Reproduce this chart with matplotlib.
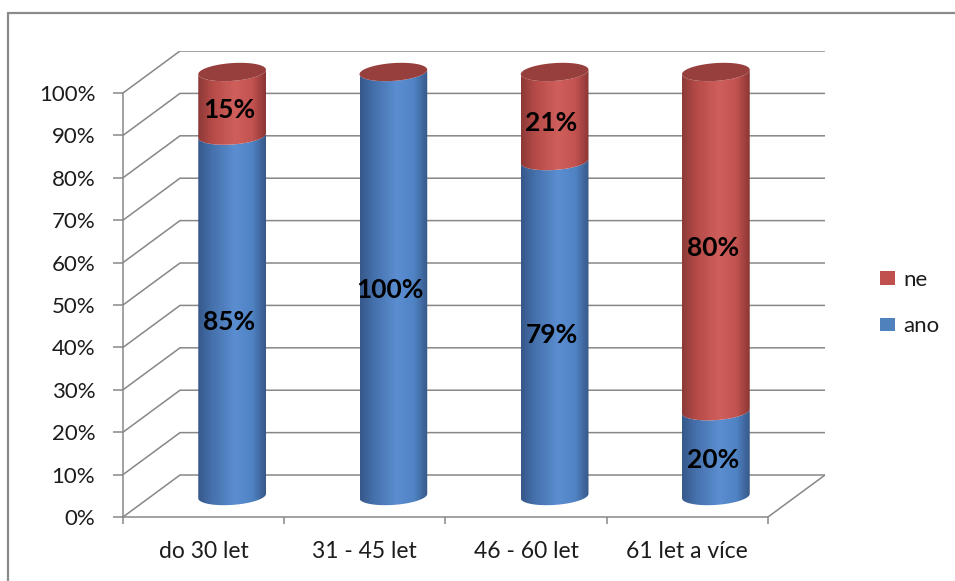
import numpy as np
import matplotlib
matplotlib.use('Agg')
import matplotlib.pyplot as plt
from matplotlib.patches import Polygon, Patch, Rectangle
from matplotlib.colors import LinearSegmentedColormap

plt.rcParams['font.family'] = ['Lato', 'DejaVu Sans']

# data
categories = ['do 30 let', '31 - 45 let', '46 - 60 let', '61 let a více']
ano = [85, 100, 79, 20]
ne = [15, 0, 21, 80]
yticks = list(range(0, 101, 10))

# pseudo 3d geometry (in data units)
DX = 0.3535     # depth offset along x (category units)
DY = 9.9        # depth offset along y (percent units)
W = 0.42        # cylinder width
B = 2.1         # half height of the ellipse
TILT = 2.5      # slight slope of the ellipses
Y0 = DY / 2     # cylinders stand at mid depth

grid_col = '#878787'
txt_col = '#1c1c1c'

blue_cm = LinearSegmentedColormap.from_list(
    'b', [(0, '#36588a'), (0.2, '#4570ab'), (0.55, '#5b8ed1'), (0.8, '#5083c4'), (1, '#365888')])
red_cm = LinearSegmentedColormap.from_list(
    'r', [(0, '#8c3937'), (0.2, '#b44a47'), (0.55, '#d05f5c'), (0.8, '#c25350'), (1, '#8a3634')])

fig = plt.figure(figsize=(9.55, 5.81), dpi=100)
ax = fig.add_axes([123 / 955, 1 - 517 / 581, (825 - 123) / 955, (517 - 51) / 581])
xmax, ymax = 4 + DX, 100 + DY

# outer frame of the chart area
fig.add_artist(Rectangle((8 / 955, -0.2), 1.2, 1 - 13 / 581 + 0.2, transform=fig.transFigure,
                         fill=False, edgecolor='#8a8a8a', lw=1.6, clip_on=False))

# walls / gridlines
for k in yticks:
    ax.plot([0, DX, 4 + DX], [k, k + DY, k + DY], color=grid_col, lw=1.1, zorder=1,
            solid_joinstyle='miter')
ax.plot([4, 4 + DX], [0, DY], color=grid_col, lw=1.1, zorder=1)


def arc(cx, yc, t0, t1, n=60):
    t = np.linspace(t0, t1, n)
    x = cx + W / 2 * np.cos(t)
    y = yc + B * np.sin(t) + TILT * (x - cx)
    return x, y


def segment(cx, ya, yb, cmap):
    xa, ya_ = arc(cx, ya, np.pi, 2 * np.pi)
    xb, yb_ = arc(cx, yb, 2 * np.pi, np.pi)
    pts = np.column_stack([np.concatenate([xa, xb]), np.concatenate([ya_, yb_])])
    poly = Polygon(pts, closed=True, transform=ax.transData)
    grad = np.linspace(0, 1, 256)[None, :]
    im = ax.imshow(grad, cmap=cmap, aspect='auto', origin='lower', zorder=3,
                   extent=[cx - W / 2, cx + W / 2, ya - 2 * B - 2, yb + 2 * B + 2],
                   interpolation='bilinear')
    im.set_clip_path(poly)


for i, cat in enumerate(categories):
    cx = i + 0.5 + DX / 2
    a, n = ano[i], ne[i]
    if a > 0:
        segment(cx, Y0, Y0 + a, blue_cm)
    if n > 0:
        segment(cx, Y0 + a, Y0 + a + n, red_cm)
    # top cap
    xt, yt = arc(cx, Y0 + a + n, 0, 2 * np.pi, 120)
    ax.add_patch(Polygon(np.column_stack([xt, yt]), closed=True, facecolor='#973f3d',
                         edgecolor='none', zorder=4))
    # labels
    for lo, v in [(0, a), (a, n)]:
        if v > 0:
            ax.text(cx - 0.02, Y0 + lo + v / 2 - 1.5, f'{v}%', ha='center', va='center',
                    fontsize=19, fontweight='bold', color='black', zorder=6)

ax.set_xlim(0, xmax)
ax.set_ylim(0, ymax)

for s in ['top', 'right']:
    ax.spines[s].set_visible(False)
ax.spines['left'].set_bounds(0, 100)
ax.spines['bottom'].set_bounds(0, 4)
for s in ['left', 'bottom']:
    ax.spines[s].set_color(grid_col)
    ax.spines[s].set_linewidth(1.1)

ax.set_yticks(yticks, [f'{k}%' for k in yticks])
ax.tick_params(axis='y', direction='out', length=7, width=1.1, color=grid_col, pad=13,
               labelsize=16, labelcolor=txt_col)
ax.set_xticks([i + 0.5 for i in range(4)], categories)
ax.set_xticks(range(5), minor=True)
ax.tick_params(axis='x', which='major', length=0, pad=17, labelsize=16.5, labelcolor=txt_col)
ax.tick_params(axis='x', which='minor', direction='out', length=5, width=1.1, color=grid_col)

handles = [Patch(facecolor='#c0504d', edgecolor='none', label='ne'),
           Patch(facecolor='#4f81bd', edgecolor='none', label='ano')]
fig.legend(handles=handles, loc='center left', bbox_to_anchor=(880 / 955, 1 - 303 / 581),
           frameon=False, fontsize=16, labelspacing=1.2, handlelength=0.68, handleheight=0.58,
           handletextpad=0.35, borderpad=0, borderaxespad=0, labelcolor=txt_col)

fig.savefig('out.png', dpi=100)
